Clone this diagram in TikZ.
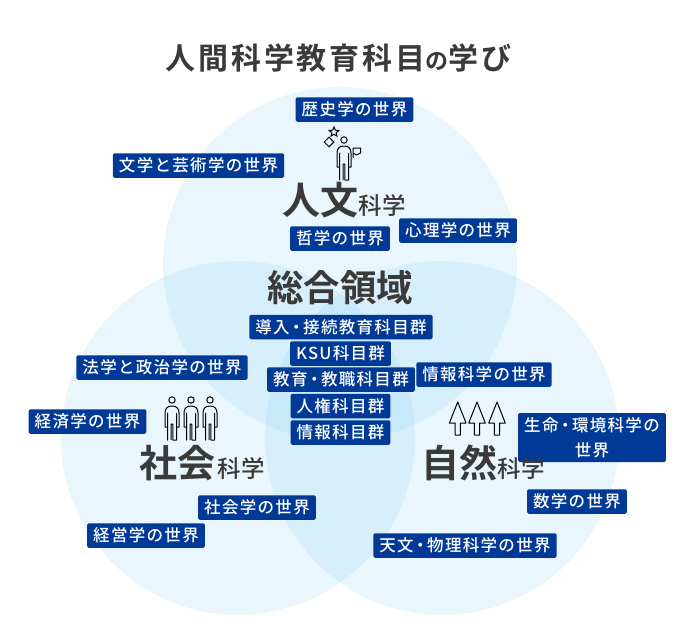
\documentclass[tikz,border=0pt]{standalone}
\usepackage{xcolor}
\usepackage{fontspec}
\usepackage{tikz}
\usetikzlibrary{shapes.geometric,positioning}
\setmainfont{Noto Sans CJK JP Bold}
\newfontfamily\tagfont[LetterSpace=8]{Noto Sans CJK JP Medium}
\newfontfamily\headfont[LetterSpace=3]{Noto Sans CJK JP Medium}
\newfontfamily\titlefont[LetterSpace=9.5]{Noto Sans CJK JP Bold}
\newcommand{\midot}{\kern-1.5pt・\kern-1.5pt}
\definecolor{tagblue}{HTML}{003A96}
\definecolor{circleblue}{HTML}{8FD3F4}
\definecolor{inkgray}{HTML}{3A3A3A}
\begin{document}
\begin{tikzpicture}[
    x=1pt,y=-1pt,
    every node/.style={inner sep=0pt,text=inkgray},
    venn/.style={fill=circleblue,fill opacity=0.2,draw=none},
    tagbox/.style={fill=tagblue,rounded corners=1.5pt,text=white,minimum height=24.5pt,inner xsep=6pt,font=\tagfont\fontsize{16.5}{25}\selectfont,align=center},
    bigname/.style={font=\fontsize{36.5}{40}\selectfont},
    fieldname/.style={font=\fontsize{38}{40}\selectfont},
    subname/.style={font=\headfont\fontsize{23.5}{26}\selectfont},
    icon/.style={draw=black,line width=1pt,fill=none,line join=round},
    person/.pic={
      \draw[icon] (0,0) circle (3.2);
      \draw[icon] (-0.8,40) -- (-0.8,24) -- (0.8,24) -- (0.8,40) -- (4.5,40) -- (4.5,13)
        (4.5,27) -- (7,27)
        -- (7,13) .. controls (7,8) and (4,6) .. (0,6) .. controls (-4,6) and (-7,8) .. (-7,13)
        -- (-7,27) -- (-4.5,27) (-4.5,13) -- (-4.5,40) -- cycle;
    },
    tree/.pic={
      \draw[icon] (0,0) -- (8.3,21) -- (2.7,21) -- (2.7,33) -- (-2.7,33) -- (-2.7,21) -- (-8.3,21) -- cycle;
    }
  ]
    \useasboundingbox (0,0) rectangle (680,634);
    % three circles
    \fill[venn] (340,264) circle (177);
    \fill[venn] (238,438) circle (177);
    \fill[venn] (442,438) circle (177);

    \node (title) at (338.5,58) {\titlefont\fontsize{30}{32}\selectfont 人間科学教育科目{\fontsize{23}{32}\selectfont の}学び};

    % humanities
    \node (history) [tagbox] at (354.5,109.5) {歴史学の世界};
    \node (letters) [tagbox] at (198.5,165.5) {文学と芸術学の世界};
    \node (philo) [tagbox] at (340,238.5) {哲学の世界};
    \node (psych) [tagbox] at (458,230.5) {心理学の世界};
    \node (jinbun) [fieldname,anchor=base west] at (282,214) {人文};
    \node (jinbunsub) [subname,right=0pt of jinbun.base east,anchor=base west] {科学};
    \pic at (344,140) {person};
    \node (iconstar) [star,star points=5,star point ratio=2.2,draw=black,line width=1pt,minimum size=10pt] at (334,132) {};
    \node (icondiamond) [diamond,draw=black,line width=1pt,minimum size=10pt] at (329,142) {};
    \draw[icon] (353,158) -- (353,148) -- (360.5,148) -- (360.5,153) -- (356.5,155) -- (353,153);

    % common area
    \node (sogo) [bigname] at (340,288) {総合領域};
    \node (intro) [tagbox] at (341,327) {導入\midot 接続教育科目群};
    \node (ksu) [tagbox] at (340.5,353.5) {KSU科目群};
    \node (teach) [tagbox] at (341,379.5) {教育\midot 教職科目群};
    \node (rights) [tagbox] at (340.5,406) {人権科目群};
    \node (infosub) [tagbox] at (340.5,432.5) {情報科目群};

    % social
    \node (law) [tagbox] at (162,367.5) {法学と政治学の世界};
    \node (econ) [tagbox] at (87.5,421.5) {経済学の世界};
    \node (socio) [tagbox] at (257,507.5) {社会学の世界};
    \node (manage) [tagbox] at (146,535.5) {経営学の世界};
    \node (shakai) [fieldname,anchor=base west] at (139,477) {社会};
    \node (shakaisub) [subname,right=2pt of shakai.base east,anchor=base west] {科学};
    \foreach \px in {172,191,210}
      \pic at (\px,400) {person};

    % natural
    \node (infosci) [tagbox] at (484,374.5) {情報科学の世界};
    \node (life) [tagbox,minimum height=49pt] at (592,437.5) {生命\midot 環境科学の\\世界};
    \node (math) [tagbox] at (577,501.5) {数学の世界};
    \node (astro) [tagbox] at (465,545.5) {天文\midot 物理科学の世界};
    \node (shizen) [fieldname,anchor=base west] at (421,477) {自然};
    \node (shizensub) [subname,right=0pt of shizen.base east,anchor=base west] {科学};
    \foreach \tx in {457.7,477,497}
      \pic at (\tx,402) {tree};
\end{tikzpicture}
\end{document}
